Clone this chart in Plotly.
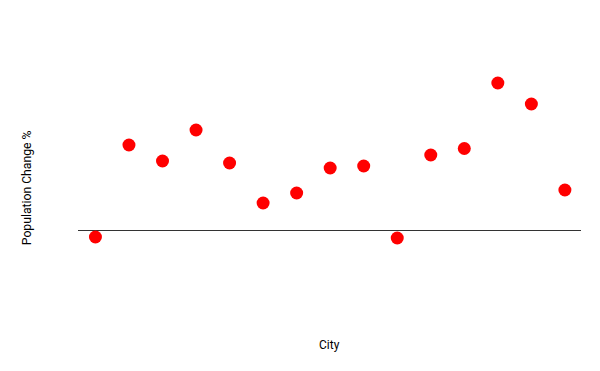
import plotly.graph_objects as go

cities = [f"City {i+1}" for i in range(15)]
pop_change = [-0.7, 8.5, 6.9, 10.0, 6.7, 2.7, 3.7, 6.2, 6.4, -0.8, 7.5, 8.15, 14.7, 12.6, 4.0]
x_title = "City"
y_title = "Population Change %"

fig = go.Figure(go.Scatter(
    x=cities, y=pop_change, mode="markers",
    marker=dict(color="red", size=13),
))
fig.update_layout(
    width=600, height=371,
    margin=dict(l=70, r=27, t=32, b=43, autoexpand=False),
    paper_bgcolor="white", plot_bgcolor="white",
    font=dict(family="Roboto", size=12, color="black"),
    showlegend=False,
    annotations=[
        dict(text=x_title, xref="paper", yref="paper", x=0.5, y=-0.030,
             xanchor="center", yanchor="middle", showarrow=False,
             font=dict(size=12, color="black")),
        dict(text=y_title, xref="paper", yref="paper", x=-0.101, y=0.5,
             xanchor="center", yanchor="middle", showarrow=False, textangle=-90,
             font=dict(size=12.2, color="black")),
    ],
)
fig.update_xaxes(showticklabels=False, showgrid=False, automargin=False,
                 zeroline=False, showline=False, ticks="", range=[-0.52, 14.48])
fig.update_yaxes(showticklabels=False, showgrid=False, automargin=False,
                 zeroline=True, zerolinecolor="#333", zerolinewidth=1,
                 showline=False, ticks="", range=[-10.6, 19.0])
fig.write_html("out.html")
